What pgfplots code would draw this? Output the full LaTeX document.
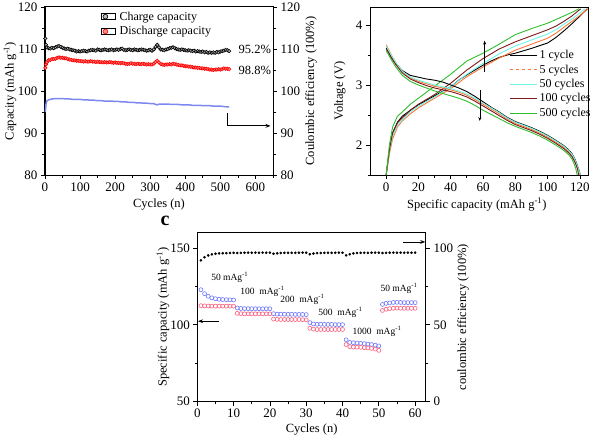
\documentclass[border=0pt]{standalone}
\usepackage{fontspec}
\setmainfont{Liberation Serif}
\usepackage{pgfplots}
\pgfplotsset{compat=1.18}
\usetikzlibrary{arrows.meta}
\definecolor{ceblue}{RGB}{125,135,240}
\definecolor{corange}{RGB}{255,115,55}
\definecolor{ccyan}{RGB}{110,245,230}
\definecolor{cbrown}{RGB}{125,25,25}
\definecolor{cgreen}{RGB}{45,190,45}
\definecolor{cblue}{RGB}{110,120,255}
\definecolor{cred}{RGB}{255,95,125}
\newcommand{\lf}{\fontsize{12}{14}\selectfont}
\pgfplotsset{
  mystyle/.style={scale only axis, clip=false, tick align=outside,
    axis line style={line width=1pt},
    every tick/.style={line width=0.8pt, black},
    major tick length=4pt, minor tick length=2.5pt,
    tick label style={font=\fontsize{13}{15}\selectfont},
    label style={font=\fontsize{12.5}{15}\selectfont},
    /pgf/number format/assume math mode=true},
}
\begin{document}
\begin{tikzpicture}
% ---------------- panel a ----------------
\begin{axis}[mystyle, at={(45pt,265pt)}, anchor=south west, width=228pt, height=168pt,
  xmin=0, xmax=650, ymin=80, ymax=120,
  xtick={0,100,...,600}, minor xtick={50,150,...,650},
  ytick={80,90,...,120}, minor ytick={85,95,...,115},
  xtick pos=left, ytick pos=left,
  xlabel={Cycles (n)}, ylabel={Capacity (mAh g\textsuperscript{-1})},
  xlabel style={at={(axis description cs:0.5,-0.176)}, anchor=center},
  ylabel style={at={(axis description cs:-0.1535,0.5)}, anchor=center},
  legend style={draw=none, fill=none, at={(axis description cs:0.2456,0.985)}, anchor=north west,
    font=\lf, inner sep=0pt, row sep=1pt, column sep=2pt},
  legend cell align=left,
  legend image code/.code={\path (0pt,-3pt) rectangle (14pt,3pt); \draw[#1, mark size=2.4pt] plot coordinates {(4pt,0pt)};}]
\addplot[only marks, mark=*, mark size=1.7pt, mark options={draw=black, fill=gray!55, line width=0.6pt}] table {
1 112.5
3 111.0
5 110.4
10 110.2
15 110.1
20 110.3
25 110.2
30 110.4
35 110.6
40 110.7
45 110.5
50 110.3
55 110.1
60 110.0
65 110.1
70 109.9
75 109.8
80 109.7
85 109.6
90 109.4
95 109.5
100 109.4
105 109.5
110 109.6
115 109.5
120 109.4
125 109.6
130 109.7
135 109.8
140 109.7
145 109.6
150 109.9
155 109.8
160 109.7
165 109.8
170 109.9
175 109.8
180 109.7
185 109.8
190 109.9
195 109.7
200 109.8
205 109.9
210 109.8
215 110.0
220 110.1
225 109.8
230 109.7
235 109.8
240 109.9
245 109.8
250 109.7
255 109.9
260 109.8
265 109.7
270 109.8
275 109.9
280 109.8
285 109.7
290 109.6
295 109.7
300 109.8
305 109.6
310 109.9
315 110.5
320 111.0
325 110.4
330 109.9
335 109.8
340 109.7
345 109.9
350 110.0
355 110.2
360 110.3
365 110.4
370 110.2
375 110.0
380 109.9
385 109.8
390 109.9
395 109.8
400 109.7
405 109.6
410 109.7
415 109.6
420 109.5
425 109.6
430 109.4
435 109.5
440 109.4
445 109.3
450 109.4
455 109.2
460 109.3
465 109.1
470 109.2
475 109.1
480 109.2
485 109.1
490 109.3
495 109.2
500 109.4
505 109.5
510 109.6
515 109.8
520 109.7
525 109.5
};
\addlegendentry{\lf Charge capacity}
\addplot[only marks, mark=*, mark size=1.7pt, mark options={draw=red, fill=red!45, line width=0.6pt}] table {
1 105.5
3 106.3
5 106.8
10 107.3
15 107.4
20 107.6
25 107.6
30 107.7
35 107.9
40 108.0
45 107.9
50 107.9
55 107.8
60 107.8
65 107.6
70 107.5
75 107.4
80 107.3
85 107.3
90 107.2
95 107.2
100 107.1
105 107.1
110 107.0
115 107.1
120 107.0
125 107.0
130 107.1
135 107.0
140 107.0
145 106.9
150 107.0
155 106.9
160 106.9
165 106.8
170 106.9
175 106.8
180 106.8
185 106.9
190 106.8
195 106.7
200 106.8
205 106.7
210 106.7
215 106.6
220 106.7
225 106.6
230 106.5
235 106.4
240 106.5
245 106.6
250 106.5
255 106.5
260 106.4
265 106.5
270 106.4
275 106.4
280 106.5
285 106.4
290 106.3
295 106.4
300 106.3
305 106.3
310 106.5
315 106.9
320 107.2
325 106.8
330 106.4
335 106.3
340 106.2
345 106.3
350 106.3
355 106.4
360 106.3
365 106.5
370 106.4
375 106.3
380 106.2
385 106.1
390 106.1
395 106.0
400 105.9
405 105.9
410 105.8
415 105.8
420 105.7
425 105.6
430 105.6
435 105.5
440 105.5
445 105.4
450 105.4
455 105.3
460 105.3
465 105.2
470 105.1
475 105.1
480 105.0
485 105.1
490 105.1
495 105.2
500 105.1
505 105.2
510 105.4
515 105.3
520 105.3
525 105.2
};
\addlegendentry{\lf Discharge capacity}
\addplot[ceblue, line width=1.5pt, mark=none, forget plot] table {
1 95.0
3 97.0
5 97.6
10 97.9
20 98.1
30 98.2
40 98.2
50 98.2
60 98.1
70 98.1
80 98.0
90 98.0
100 98.0
110 97.9
120 97.9
130 97.8
140 97.8
150 97.7
160 97.7
170 97.6
180 97.6
190 97.6
200 97.5
210 97.5
220 97.4
230 97.4
240 97.3
250 97.3
260 97.2
270 97.2
280 97.1
290 97.1
300 97.0
310 97.0
315 96.8
320 96.7
325 96.9
330 96.9
340 96.9
350 96.9
360 96.8
370 96.8
380 96.8
390 96.7
400 96.7
410 96.7
420 96.6
430 96.6
440 96.6
450 96.5
460 96.5
470 96.5
480 96.4
490 96.4
500 96.4
510 96.3
520 96.2
525 96.2
};
\node[anchor=west, font=\fontsize{12.5}{15}\selectfont] at (axis cs:542,109.8) {95.2\%};
\node[anchor=west, font=\fontsize{12.5}{15}\selectfont] at (axis cs:542,104.8) {98.8\%};
\draw[line width=0.9pt, -{Stealth[length=5pt]}] (axis cs:519,94.8) -- (axis cs:519,91.7) -- (axis cs:643,91.7);
\end{axis}
\begin{axis}[mystyle, at={(45pt,265pt)}, anchor=south west, width=228pt, height=168pt,
  xmin=0, xmax=650, ymin=80, ymax=120, axis x line=none, axis y line*=right,
  ytick={80,90,...,120}, minor ytick={85,95,...,115},
  ylabel={Coulombic efficiency (100\%)},
  ylabel style={at={(axis description cs:1.1667,0.5)}, anchor=center}]
\end{axis}
% ---------------- panel b ----------------
\begin{axis}[mystyle, at={(370pt,265pt)}, anchor=south west, width=218pt, height=168pt,
  xmin=-10, xmax=125, ymin=1.5, ymax=4.3,
  xtick={0,20,...,120}, minor xtick={10,30,...,110},
  ytick={2,3,4}, minor ytick={1.5,2.5,3.5},
  xtick pos=left, ytick pos=left,
  xlabel={Specific capacity (mAh g\textsuperscript{-1})}, ylabel={Voltage (V)},
  xlabel style={at={(axis description cs:0.49,-0.176)}, anchor=center},
  ylabel style={at={(axis description cs:-0.1376,0.5)}, anchor=center},
  legend style={draw=none, fill=none, at={(axis description cs:0.64,0.755)}, anchor=north west,
    font=\lf, inner sep=0pt, row sep=0.6pt},
  legend cell align=left,
  legend image code/.code={\draw[#1] (0pt,0pt) -- (27pt,0pt);}]
% charge curves
\addplot[black, line width=0.9pt] coordinates {(0,1.5)(2,1.9)(4,2.2)(7,2.38)(10,2.48)(15,2.58)(20,2.67)(30,2.82)(40,2.97)(45,3.08)(50,3.17)(55,3.25)(60,3.33)(65,3.4)(70,3.46)(75,3.5)(80,3.53)(90,3.61)(100,3.7)(105,3.79)(110,3.9)(115,4.02)(120,4.15)(124.5,4.27)};
\addlegendentry{\lf 1 cycle}
\addplot[corange, line width=0.9pt, legend image post style={dashed}] coordinates {(0,1.5)(2,1.85)(4,2.1)(7,2.3)(10,2.4)(15,2.52)(20,2.62)(30,2.78)(40,2.94)(50,3.14)(60,3.3)(70,3.45)(80,3.58)(90,3.68)(100,3.78)(105,3.86)(110,3.96)(115,4.06)(120,4.16)(125,4.27)};
\addlegendentry{\lf 5 cycles}
\addplot[ccyan, line width=0.9pt] coordinates {(0,1.5)(2,1.9)(4,2.15)(7,2.33)(10,2.42)(15,2.55)(20,2.65)(30,2.8)(40,2.97)(50,3.18)(60,3.36)(70,3.52)(80,3.65)(90,3.75)(100,3.85)(105,3.92)(110,4.01)(115,4.1)(120,4.2)(123,4.27)};
\addlegendentry{\lf 50 cycles}
\addplot[cbrown, line width=0.9pt] coordinates {(0,1.5)(2,1.92)(4,2.2)(7,2.37)(10,2.45)(15,2.58)(20,2.68)(30,2.84)(40,3.03)(50,3.25)(60,3.44)(70,3.6)(80,3.72)(90,3.82)(100,3.92)(105,3.98)(110,4.06)(115,4.15)(120.5,4.27)};
\addlegendentry{\lf 100 cycles}
\addplot[cgreen, line width=0.9pt] coordinates {(0,1.5)(2,2.0)(4,2.3)(7,2.48)(10,2.55)(15,2.68)(20,2.78)(30,2.98)(40,3.18)(50,3.4)(60,3.53)(70,3.68)(75,3.76)(80,3.84)(90,3.94)(100,4.03)(110,4.15)(115,4.21)(119.5,4.27)};
\addlegendentry{\lf 500 cycles}
% discharge curves
\addplot[black, line width=0.9pt, forget plot] coordinates {(0,3.62)(1,3.57)(3,3.48)(6,3.36)(10,3.24)(15,3.16)(20,3.13)(25,3.1)(30,3.08)(35,3.05)(40,3.0)(45,2.95)(50,2.89)(55,2.81)(60,2.72)(65,2.63)(70,2.55)(75,2.46)(80,2.39)(85,2.34)(90,2.29)(95,2.23)(100,2.16)(105,2.08)(110,1.99)(113,1.92)(115,1.86)(117,1.76)(118.5,1.65)(119.5,1.57)(120.3,1.5)};
\addplot[corange, line width=0.9pt, forget plot] coordinates {(0,3.67)(1,3.62)(3,3.51)(6,3.37)(10,3.22)(15,3.12)(20,3.06)(25,3.02)(30,2.98)(35,2.95)(40,2.92)(45,2.88)(50,2.83)(55,2.76)(60,2.68)(65,2.6)(70,2.52)(75,2.43)(80,2.36)(85,2.31)(90,2.26)(95,2.2)(100,2.13)(105,2.05)(110,1.96)(113,1.89)(115,1.83)(117,1.73)(118.5,1.62)(119.5,1.55)(120.2,1.5)};
\addplot[ccyan, line width=0.9pt, forget plot] coordinates {(0,3.65)(1,3.6)(3,3.5)(6,3.37)(10,3.23)(15,3.13)(20,3.08)(25,3.04)(30,3.0)(35,2.97)(40,2.94)(45,2.9)(50,2.85)(55,2.78)(60,2.7)(65,2.62)(70,2.54)(75,2.45)(80,2.38)(85,2.33)(90,2.28)(95,2.22)(100,2.15)(105,2.07)(110,1.98)(113,1.91)(115,1.85)(117,1.75)(118.5,1.64)(119.5,1.56)(120.3,1.5)};
\addplot[cbrown, line width=0.9pt, forget plot] coordinates {(0,3.6)(1,3.56)(3,3.46)(6,3.34)(10,3.2)(15,3.1)(20,3.04)(25,2.99)(30,2.95)(35,2.92)(40,2.89)(45,2.85)(50,2.8)(55,2.73)(60,2.65)(65,2.57)(70,2.49)(75,2.41)(80,2.34)(85,2.29)(90,2.24)(95,2.18)(100,2.11)(105,2.03)(110,1.94)(113,1.87)(115,1.81)(117,1.71)(118.5,1.6)(119.2,1.5)};
\addplot[cgreen, line width=0.9pt, forget plot] coordinates {(0,3.57)(1,3.53)(3,3.43)(6,3.3)(10,3.16)(15,3.06)(20,3.0)(25,2.95)(30,2.9)(35,2.86)(40,2.82)(45,2.78)(50,2.73)(55,2.66)(60,2.58)(65,2.51)(70,2.44)(75,2.37)(80,2.31)(85,2.26)(90,2.21)(95,2.15)(100,2.08)(105,2.0)(110,1.91)(113,1.84)(115,1.77)(116.5,1.68)(117.5,1.6)(118.3,1.5)};
\draw[line width=0.6pt, -{Stealth[length=4pt]}] (axis cs:61,3.22) -- (axis cs:61,3.74);
\draw[line width=0.6pt, -{Stealth[length=4pt]}] (axis cs:58,2.92) -- (axis cs:58,2.4);
\end{axis}
% ---------------- panel c ----------------
\begin{axis}[mystyle, at={(197.3pt,38.3pt)}, anchor=south west, width=228.7pt, height=169pt,
  xmin=0, xmax=63, ymin=50, ymax=160,
  xtick={0,10,...,60}, minor xtick={5,15,...,55},
  ytick={50,100,150}, minor ytick={75,125},
  xtick pos=left, ytick pos=left,
  xlabel={Cycles (n)}, ylabel={Specific capacity (mAh g\textsuperscript{-1})},
  xlabel style={at={(axis description cs:0.5,-0.167)}, anchor=center},
  ylabel style={at={(axis description cs:-0.15,0.5)}, anchor=center}]
\addplot[only marks, mark=o, mark size=2pt, mark options={draw=cblue, line width=0.6pt}] table {
1 122.9
2 120.3
3 118.6
4 117.6
5 117.0
6 116.7
7 116.5
8 116.4
9 116.3
10 116.2
11 111.0
12 110.7
13 110.6
14 110.6
15 110.5
16 110.5
17 110.5
18 110.5
19 110.5
20 110.5
21 107.3
22 107.0
23 107.0
24 106.9
25 106.9
26 106.9
27 106.8
28 106.8
29 106.8
30 106.7
31 101.5
32 100.6
33 100.4
34 100.4
35 100.3
36 100.3
37 100.3
38 100.2
39 100.2
40 100.2
41 90.3
42 88.6
43 88.4
44 88.2
45 88.0
46 87.8
47 87.5
48 87.2
49 86.8
50 86.3
51 113.3
52 114.0
53 114.3
54 114.6
55 114.7
56 114.6
57 114.5
58 114.5
59 114.5
60 114.5
};
\addplot[only marks, mark=o, mark size=2pt, mark options={draw=cred, line width=0.6pt}] table {
1 112.5
2 112.4
3 112.3
4 112.2
5 112.2
6 112.2
7 112.2
8 112.2
9 112.2
10 112.2
11 107.5
12 107.3
13 107.2
14 107.2
15 107.2
16 107.2
17 107.2
18 107.2
19 107.2
20 107.2
21 103.8
22 103.6
23 103.5
24 103.5
25 103.5
26 103.5
27 103.5
28 103.5
29 103.4
30 103.3
31 97.8
32 97.2
33 97.0
34 97.0
35 97.0
36 97.0
37 97.0
38 97.0
39 97.0
40 97.0
41 87.2
42 85.8
43 85.6
44 85.5
45 85.4
46 85.2
47 85.0
48 84.7
49 84.3
50 83.4
51 109.4
52 110.2
53 110.6
54 110.8
55 110.9
56 110.8
57 110.8
58 110.8
59 110.8
60 110.8
};
\node[anchor=west, font=\fontsize{9.5}{11}\selectfont] at (axis cs:2.9,131) {50 mAg\textsuperscript{-1}};
\node[anchor=west, font=\fontsize{9.5}{11}\selectfont] at (axis cs:10.9,121.7) {100\ \ mAg\textsuperscript{-1}};
\node[anchor=west, font=\fontsize{9.5}{11}\selectfont] at (axis cs:21.9,116.7) {200\ \ mAg\textsuperscript{-1}};
\node[anchor=west, font=\fontsize{9.5}{11}\selectfont] at (axis cs:32.4,108) {500\ \ mAg\textsuperscript{-1}};
\node[anchor=west, font=\fontsize{9.5}{11}\selectfont] at (axis cs:41.8,95.9) {1000\ \ mAg\textsuperscript{-1}};
\node[anchor=west, font=\fontsize{9.5}{11}\selectfont] at (axis cs:49.5,123.9) {50 mAg\textsuperscript{-1}};
\draw[line width=0.8pt, -{Stealth[length=5pt]}] (axis cs:6,102.4) -- (axis cs:0.2,102.4);
\draw[line width=0.8pt, -{Stealth[length=5pt]}] (axis cs:56.7,154) -- (axis cs:62.8,154);
\node[font=\bfseries\fontsize{20}{22}\selectfont, inner sep=0pt, anchor=base] at (axis description cs:-0.141,1.045) {c};
\end{axis}
\begin{axis}[mystyle, at={(197.3pt,38.3pt)}, anchor=south west, width=228.7pt, height=169pt,
  xmin=0, xmax=63, ymin=0, ymax=110, axis x line=none, axis y line*=right,
  ytick={0,50,100}, minor ytick={25,75},
  ylabel={coulombic efficiency (100\%)},
  ylabel style={at={(axis description cs:1.162,0.5)}, anchor=center}]
\addplot[only marks, mark=*, mark size=1.1pt, black] table {
1 92.0
2 94.0
3 95.2
4 95.9
5 96.3
6 96.5
7 96.6
8 96.7
9 96.8
10 96.9
11 96.8
12 96.9
13 96.9
14 97.0
15 97.0
16 97.0
17 97.0
18 97.0
19 97.0
20 97.0
21 96.3
22 96.6
23 96.8
24 96.9
25 96.9
26 96.9
27 96.9
28 97.0
29 97.0
30 97.0
31 96.0
32 96.4
33 96.7
34 96.8
35 96.9
36 96.9
37 96.9
38 96.9
39 97.0
40 97.0
41 95.3
42 96.0
43 96.5
44 96.8
45 96.9
46 96.9
47 96.9
48 97.0
49 97.0
50 97.0
51 96.8
52 96.9
53 97.0
54 97.0
55 97.0
56 97.0
57 97.0
58 97.0
59 97.0
60 97.0
};
\end{axis}
\pgfresetboundingbox
\path[use as bounding box] (0pt,0pt) rectangle (600pt,440pt);
\end{tikzpicture}
\end{document}
